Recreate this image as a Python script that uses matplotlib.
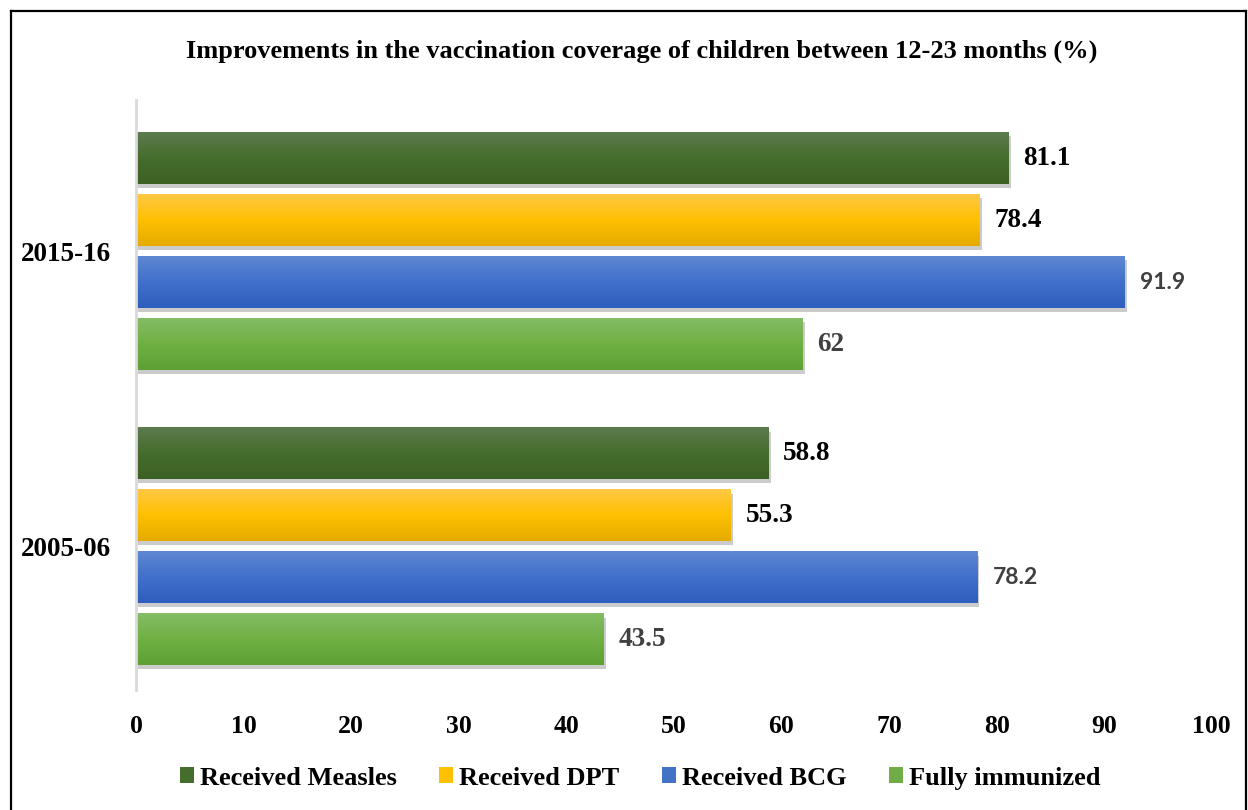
import matplotlib
matplotlib.use('Agg')
import matplotlib.pyplot as plt
import matplotlib.patheffects as pe
import numpy as np
from matplotlib.colors import LinearSegmentedColormap
from matplotlib.lines import Line2D
from matplotlib.patches import Patch

# data
years = ['2005-06', '2015-16']
series = ['Received Measles', 'Received DPT', 'Received BCG', 'Fully immunized']
measles = [58.8, 81.1]
dpt = [55.3, 78.4]
bcg = [78.2, 91.9]
fully = [43.5, 62]

values = [measles, dpt, bcg, fully]
# top, middle, bottom colours for the gradient fill
grads = [
    ('#5d7b50', '#456d2c', '#3c6124'),
    ('#ffc845', '#ffc000', '#e4ab00'),
    ('#5f87d2', '#4070cb', '#2e5fbe'),
    ('#83bd65', '#70b043', '#5fa035'),
]
base = ['#456d2c', '#ffc000', '#4472c4', '#70ad47']

serif = 'Liberation Serif'

fig = plt.figure(figsize=(12.48, 8.1), dpi=100)
ax = fig.add_axes([0.109, 0.148, 0.862, 0.729])

y = np.arange(len(years))
step = 0.21
height = 0.176
offsets = [1.5 * step, 0.5 * step, -0.5 * step, -1.5 * step]

shadow = [pe.SimplePatchShadow(offset=(1.5, -3), shadow_rgbFace='#7f7f7f', alpha=0.4), pe.Normal()]

for i, vals in enumerate(values):
    rects = ax.barh(y + offsets[i], vals, height=height, color=base[i],
                    zorder=2, path_effects=shadow)
    cmap = LinearSegmentedColormap.from_list(series[i], list(grads[i]))
    for j, rect in enumerate(rects):
        x0, y0 = rect.get_x(), rect.get_y()
        w, h = rect.get_width(), rect.get_height()
        grad = np.linspace(0, 1, 64).reshape(-1, 1)
        ax.imshow(grad, cmap=cmap, aspect='auto', origin='upper',
                  extent=(x0, x0 + w, y0, y0 + h), zorder=3, interpolation='bilinear')

        txt = f'{vals[j]:g}'
        if i == 2:
            ax.annotate(txt, xy=(w, y0 + h / 2), xytext=(11, 0), textcoords='offset points',
                        va='center', ha='left', fontsize=16.5, fontweight='bold',
                        family='Lato', color='#404040', zorder=5)
        else:
            ax.annotate(txt, xy=(w, y0 + h / 2), xytext=(10.5, 0), textcoords='offset points',
                        va='center', ha='left', fontsize=19.5, fontweight='bold',
                        family=serif, color='#404040' if i == 3 else 'black', zorder=5)

ax.set_xlim(0, 100)
ax.set_ylim(-0.487, 1.513)
ax.set_xticks(np.arange(0, 101, 10))
ax.set_xticklabels([str(t) for t in range(0, 101, 10)], fontsize=18.5,
                   fontweight='bold', family=serif)
ax.set_yticks(y)
ax.set_yticklabels(years, fontsize=19.5, fontweight='bold', family=serif)
ax.tick_params(length=0)
ax.tick_params(axis='x', pad=18)
ax.tick_params(axis='y', pad=18)
for s in ['top', 'right', 'bottom']:
    ax.spines[s].set_visible(False)
ax.spines['left'].set_color('#d9d9d9')
ax.spines['left'].set_linewidth(2)
ax.spines['left'].set_zorder(4)

fig.text(0.514, 0.937, 'Improvements in the vaccination coverage of children between 12-23 months (%)',
         ha='center', va='center', fontsize=19, fontweight='bold', family=serif)

handles = [Patch(facecolor=base[i], edgecolor='none') for i in range(4)]
fig.legend(handles, series, loc='center', bbox_to_anchor=(0.513, 0.0395), ncol=4,
           frameon=False, handlelength=0.53, handleheight=0.53, handletextpad=0.23,
           columnspacing=1.6, prop={'family': serif, 'weight': 'bold', 'size': 19})

# outer frame
lw = 1.6
fig.add_artist(Line2D([11 / 1248, 11 / 1248], [0, 1 - 11 / 810], transform=fig.transFigure,
                      color='black', lw=lw))
fig.add_artist(Line2D([11 / 1248, 1246 / 1248], [1 - 11 / 810, 1 - 11 / 810],
                      transform=fig.transFigure, color='black', lw=lw))
fig.add_artist(Line2D([1246 / 1248, 1246 / 1248], [0, 1 - 11 / 810], transform=fig.transFigure,
                      color='black', lw=lw))

fig.savefig('out.png', dpi=100, facecolor='white')
